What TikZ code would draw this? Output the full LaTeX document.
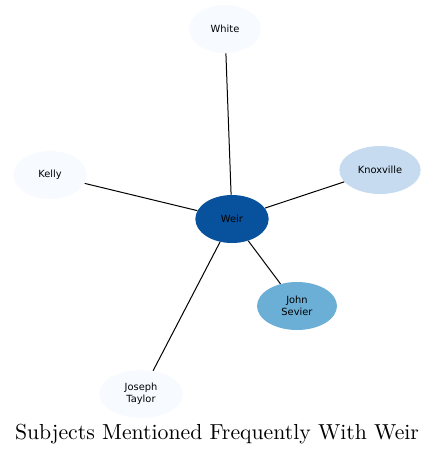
\documentclass[tikz,border=0pt]{standalone}
\usepackage{fontspec}
\usetikzlibrary{shapes.geometric}
\newfontfamily\labelfont{DejaVu Sans}
\newfontfamily\titlefont{lmroman10-regular}[Extension=.otf]
\definecolor{darkblue}{HTML}{08519C}
\definecolor{midblue}{HTML}{6BAED6}
\definecolor{paleblue}{HTML}{C6DBEF}
\definecolor{faintblue}{HTML}{F7FBFF}

\begin{document}
\begin{tikzpicture}[x=0.75pt,y=-0.75pt,
    subj/.style={ellipse,minimum height=36pt,inner sep=0pt,
                 align=center,font=\labelfont\fontsize{7.4}{8.6}\selectfont},
    link/.style={black,line width=0.75pt}]
  \useasboundingbox (0,0) rectangle (435,455);
  \node[subj,fill=darkblue,minimum width=55pt] (weir) at (232,219) {Weir};
  \foreach \nm/\x/\y/\w/\c/\t in {white/225/29/54/faintblue/White,
                                  kelly/50/175/55/faintblue/Kelly,
                                  knox/380/170/61/paleblue/Knoxville,
                                  sevier/297/306/60/midblue/John\\Sevier,
                                  taylor/141/394/63/faintblue/Joseph\\Taylor} {
    \node[subj,fill=\c,minimum width=\w pt] (\nm) at (\x,\y) {\t};
    \draw[link] (weir) -- (\nm);
  }
  \node[font=\titlefont\fontsize{16.3}{19}\selectfont] (title) at (217,434)
    {Subjects Mentioned Frequently With Weir};
\end{tikzpicture}
\end{document}
